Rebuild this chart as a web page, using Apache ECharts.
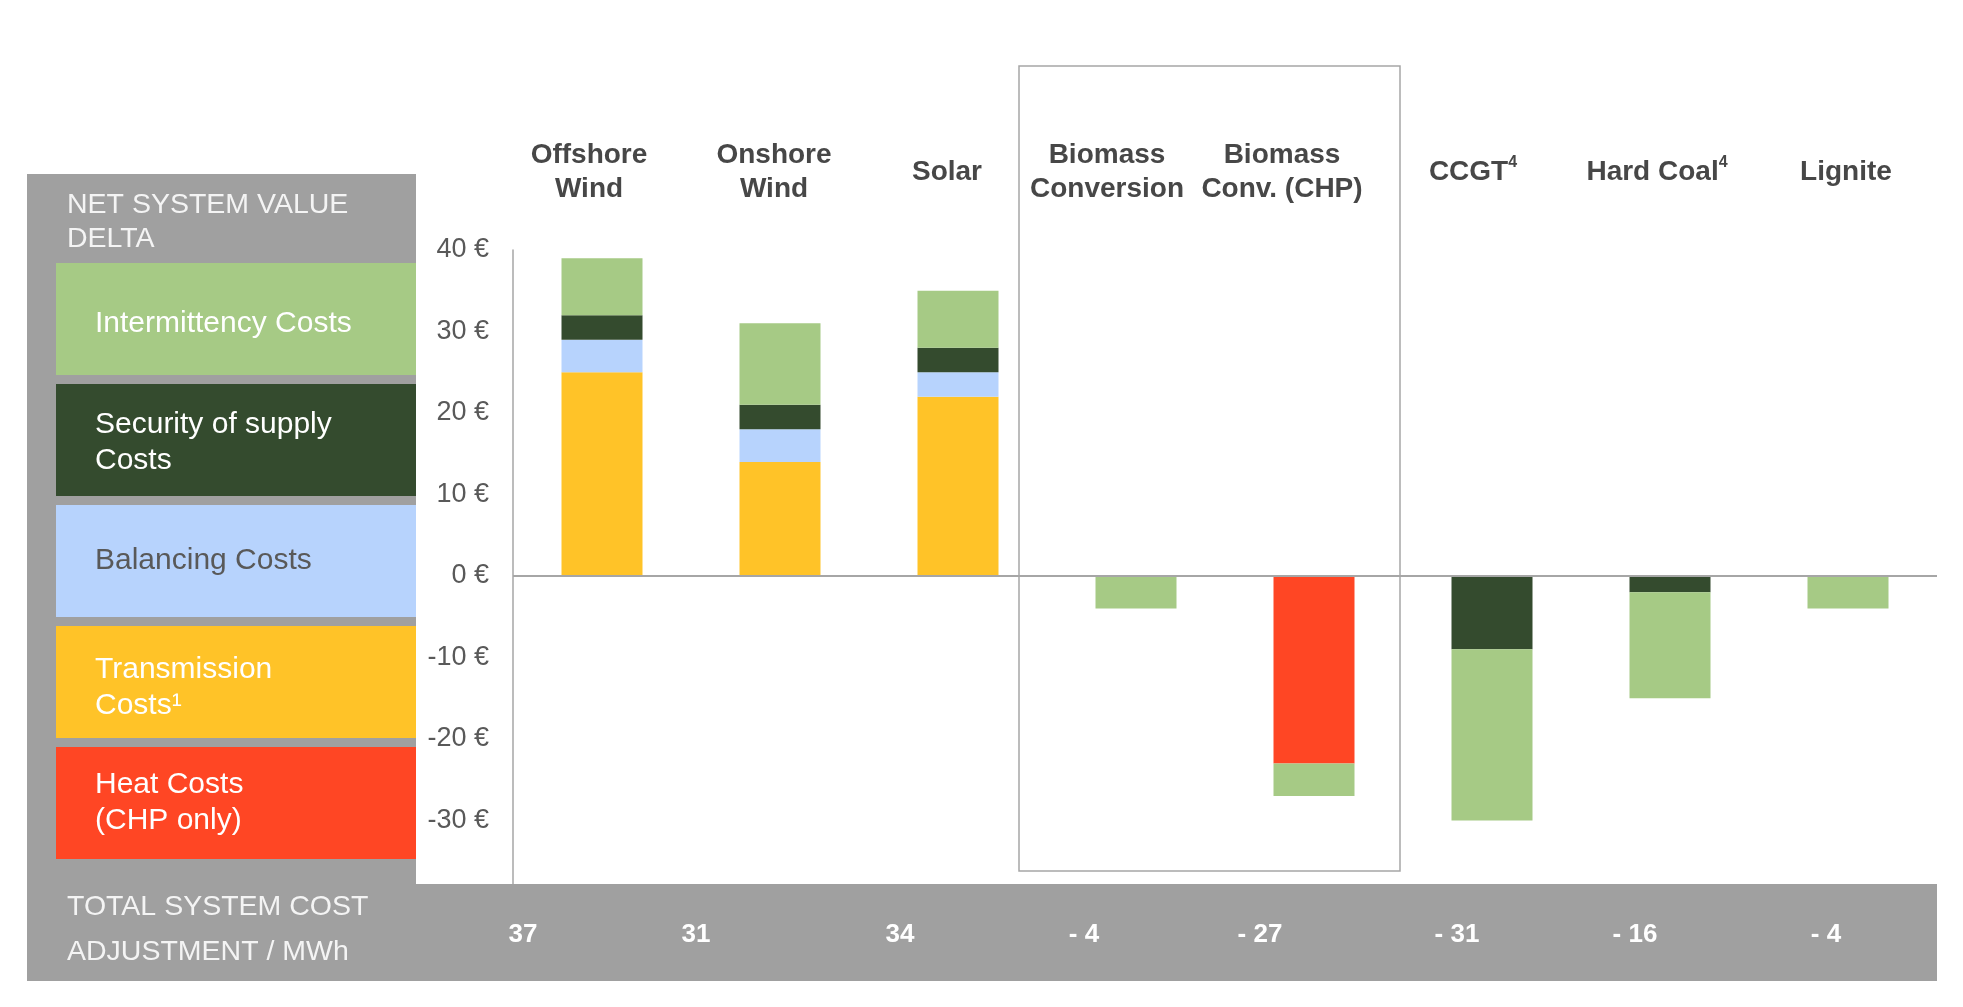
<!DOCTYPE html>
<html>
<head>
<meta charset="utf-8">
<script src="https://cdn.jsdelivr.net/npm/echarts@6/dist/echarts.min.js"></script>
<style>
  html, body { margin: 0; padding: 0; background: #ffffff; }
  #chart { width: 1963px; height: 1007px; }
</style>
</head>
<body>
<div id="chart"></div>
<script>
// categories and stacked values (EUR / MWh)
const categories = ["Offshore\nWind", "Onshore\nWind", "Solar", "Biomass\nConversion",
  "Biomass\nConv. (CHP)", "CCGT⁴", "Hard Coal⁴", "Lignite"];
const transmission = [25, 14, 22, null, null, null, null, null];
const balancing = [4, 4, 3, null, null, null, null, null];
const heat = [null, null, null, null, -23, null, null, null];
const security = [3, 3, 3, null, null, -9, -2, null];
const intermittency = [7, 10, 7, -4, -4, -21, -13, -4];
const totals = [37, 31, 34, -4, -27, -31, -16, -4];

const legendNames = ["Intermittency Costs", "Security of supply\nCosts", "Balancing Costs",
  "Transmission\nCosts¹", "Heat Costs\n(CHP only)"];
const headerLines = ["NET SYSTEM VALUE", "DELTA"];
const footerLines = ["TOTAL SYSTEM COST", "ADJUSTMENT / MWh"];

// label nudges (px to the left of each bar centre), as placed in the slide
const topShift = [13, 6, 11, 29, 32, 19, 13, 2];
const totalShift = [79, 84, 58, 52, 54, 35, 35, 22];
const legendDy = [5, 3, 0, 6, 0];

const colors = {
  intermittency: "#A6CA85",
  security: "#344B2E",
  balancing: "#B7D3FD",
  transmission: "#FFC328",
  heat: "#FF4624",
  panel: "#A0A0A0",
  axis: "#A6A6A6",
  ink: "#474747",
  muted: "#595959",
};
const font = "'Liberation Sans', Arial, sans-serif";
const legendColors = [colors.intermittency, colors.security, colors.balancing, colors.transmission, colors.heat];
const legendText = ["#ffffff", "#ffffff", colors.muted, "#ffffff", "#ffffff"];

const chart = echarts.init(document.getElementById("chart"), null, { renderer: "canvas" });

function barSeries(name, data, color) {
  return {
    name,
    type: "bar",
    stack: "total",
    data,
    barWidth: 81,
    itemStyle: { color },
    emphasis: { disabled: true },
  };
}

// rich styles for the nudged axis labels
const topRich = {
  n: { color: colors.ink, fontWeight: "bold", fontSize: 28, lineHeight: 34, fontFamily: font },
  s: { color: colors.ink, fontWeight: "bold", fontSize: 16, lineHeight: 18, verticalAlign: "top", fontFamily: font },
};
topShift.forEach((d, i) => { topRich["g" + i] = { width: d * 2, lineHeight: 34, fontSize: 10 }; });
const totalRich = {
  v: { color: "#ffffff", fontWeight: "bold", fontSize: 26, fontFamily: font },
};
totalShift.forEach((d, i) => { totalRich["h" + i] = { width: d * 2, fontSize: 10 }; });

function topLabel(value, index) {
  return value.split("\n").map((line) => {
    const parts = line.split("⁴");
    let s = "{n|" + parts[0] + "}";
    if (parts.length > 1) s += "{s|4}";
    return s + "{g" + index + "| }";
  }).join("\n");
}

function totalLabel(value, index) {
  return "{v|" + value + "}{h" + index + "| }";
}

const graphic = [
  { type: "rect", z: 100, shape: { x: 27, y: 174, width: 389, height: 807 }, style: { fill: colors.panel } },
  { type: "rect", z: 100, shape: { x: 27, y: 884, width: 1910, height: 97 }, style: { fill: colors.panel } },
  { type: "rect", z: 5, shape: { x: 1019, y: 66, width: 381, height: 805 },
    style: { fill: null, stroke: colors.axis, lineWidth: 1.5 } },
];
headerLines.forEach((t, i) => {
  graphic.push({ type: "text", z: 102, x: 67, y: 205 + i * 34,
    style: { text: t, fill: "#F4F4F4", fontSize: 28.5, fontFamily: font, verticalAlign: "middle" } });
});
footerLines.forEach((t, i) => {
  graphic.push({ type: "text", z: 102, x: 67, y: 907 + i * 45,
    style: { text: t, fill: "#F4F4F4", fontSize: 28.5, fontFamily: font, verticalAlign: "middle" } });
});
legendNames.forEach((name, i) => {
  const top = 263 + i * 121;
  graphic.push({ type: "rect", z: 101, shape: { x: 56, y: top, width: 360, height: 112 },
    style: { fill: legendColors[i] } });
  graphic.push({ type: "text", z: 102, x: 95, y: top + 56 + legendDy[i],
    style: { text: name, fill: legendText[i], fontSize: 30, lineHeight: 36, fontFamily: font,
      verticalAlign: "middle" } });
});

chart.setOption({
  animation: false,
  backgroundColor: "#ffffff",
  textStyle: { fontFamily: font },
  grid: { left: 513, right: 26, top: 250, bottom: 105, containLabel: false },
  xAxis: [
    {
      type: "category",
      position: "top",
      data: categories,
      axisLine: { show: false, onZero: false },
      axisTick: { show: false },
      axisLabel: {
        interval: 0,
        margin: 78,
        verticalAlign: "middle",
        color: colors.ink,
        fontWeight: "bold",
        fontSize: 28,
        lineHeight: 34,
        fontFamily: font,
        formatter: topLabel,
        rich: topRich,
      },
    },
    {
      type: "category",
      position: "bottom",
      data: totals.map((v) => (v < 0 ? "- " + Math.abs(v) : String(v))),
      z: 200,
      axisLine: { show: false, onZero: false },
      axisTick: { show: false },
      axisLabel: {
        interval: 0,
        margin: 33,
        verticalAlign: "middle",
        color: "#ffffff",
        fontWeight: "bold",
        fontSize: 26,
        fontFamily: font,
        formatter: totalLabel,
        rich: totalRich,
      },
    },
  ],
  yAxis: {
    type: "value",
    min: -40,
    max: 40,
    interval: 10,
    axisLine: { show: true, lineStyle: { color: colors.axis, width: 1.5 } },
    axisTick: { show: false },
    splitLine: { show: false },
    axisLabel: {
      margin: 24,
      color: colors.muted,
      fontSize: 27,
      fontFamily: font,
      formatter: (v) => (v === -40 ? "" : v + " €"),
    },
  },
  graphic,
  series: [
    Object.assign(barSeries("Transmission Costs", transmission, colors.transmission), {
      markLine: {
        silent: true,
        symbol: "none",
        label: { show: false },
        lineStyle: { color: colors.axis, width: 2, type: "solid" },
        data: [{ yAxis: 0 }],
      },
    }),
    barSeries("Balancing Costs", balancing, colors.balancing),
    barSeries("Heat Costs", heat, colors.heat),
    barSeries("Security of supply Costs", security, colors.security),
    barSeries("Intermittency Costs", intermittency, colors.intermittency),
  ],
});
</script>
</body>
</html>
